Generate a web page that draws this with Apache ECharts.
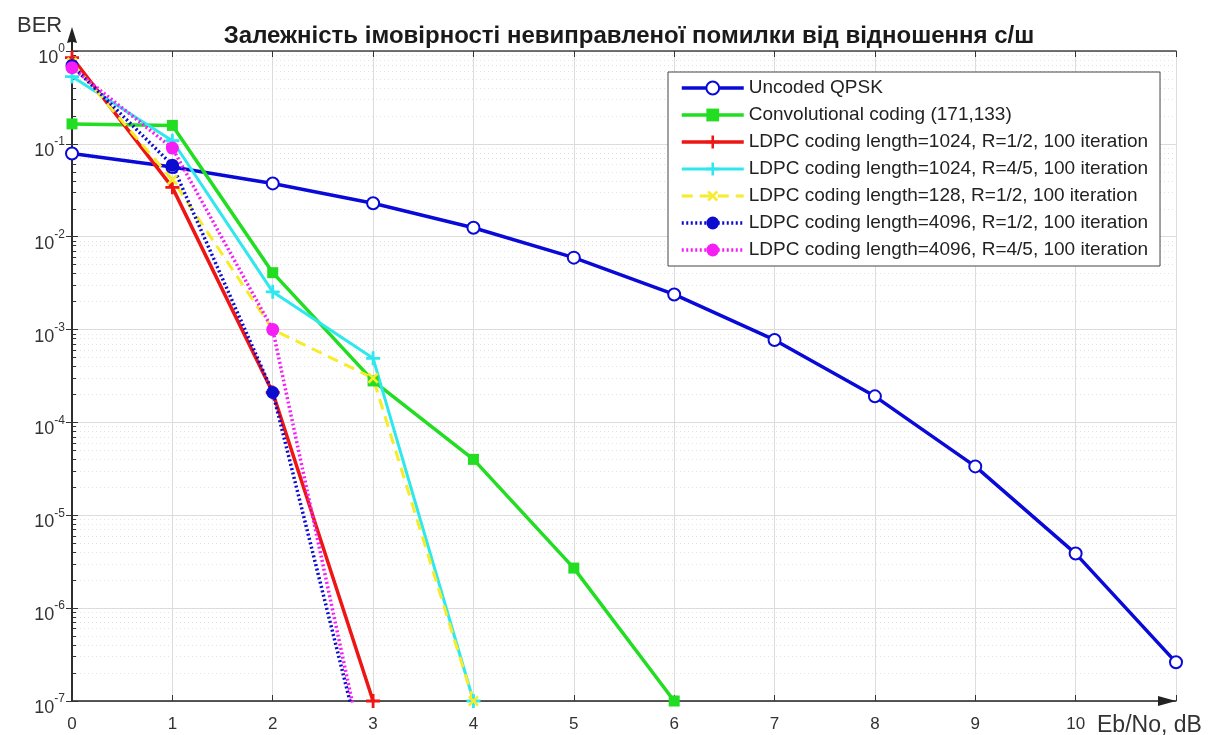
<!DOCTYPE html>
<html>
<head>
<meta charset="utf-8">
<script src="https://cdn.jsdelivr.net/npm/echarts@6/dist/echarts.min.js"></script>
<style>
  html, body { margin: 0; padding: 0; background: #fff; }
  #ber-chart { width: 1213px; height: 735px; }
</style>
</head>
<body>
<div id="ber-chart"></div>
<script>
// Eb/No, dB
const ebno = [0, 1, 2, 3, 4, 5, 6, 7, 8, 9, 10, 11];
// BER values
const uncodedQpsk = [0.0786, 0.0563, 0.0375, 0.0229, 0.0125, 0.00595, 0.00239, 7.73e-4, 1.91e-4, 3.36e-5, 3.87e-6, 2.61e-7];
const convCoding = [0.164, 0.158, 0.0041, 2.8e-4, 4.0e-5, 2.7e-6, 1e-7];
const ldpc1024Half = [0.85, 0.034, 2.1e-4, 1e-7];
const ldpc1024FourFifths = [0.53, 0.108, 2.55e-3, 4.9e-4, 1e-7];
const ldpc128Half = [0.75, 0.041, 1.0e-3, 3.0e-4, 1e-7];
const ldpc4096Half = [0.7, 0.059, 2.1e-4, 1e-8];
const ldpc4096FourFifths = [0.66, 0.09, 1.0e-3, 8.7e-9];

const legendNames = [
  'Uncoded QPSK',
  'Convolutional coding (171,133)',
  'LDPC coding length=1024, R=1/2, 100 iteration',
  'LDPC coding length=1024, R=4/5, 100 iteration',
  'LDPC coding length=128, R=1/2, 100 iteration',
  'LDPC coding length=4096, R=1/2, 100 iteration',
  'LDPC coding length=4096, R=4/5, 100 iteration'
];

const FONT = '"Liberation Sans", Arial, sans-serif';
const PLUS = 'path://M4,0 L6,0 L6,4 L10,4 L10,6 L6,6 L6,10 L4,10 L4,6 L0,6 L0,4 L4,4 Z';

const pairs = (vals) => vals.map((v, i) => [ebno[i], v]);

const mkSeries = (name, vals, color, opts) => Object.assign({
  name: name,
  type: 'line',
  data: pairs(vals),
  symbolSize: 11,
  lineStyle: { color: color, width: 3.5 },
  itemStyle: { color: color },
  animation: false,
  clip: true
}, opts);

const chart = echarts.init(document.getElementById('ber-chart'));

chart.setOption({
  backgroundColor: '#fff',
  title: [
    {
      text: 'Залежність імовірності невиправленої помилки від відношення с/ш',
      left: 624, top: 19, textAlign: 'center',
      textStyle: { fontFamily: FONT, fontSize: 24, fontWeight: 'bold', color: '#1a1a1a' }
    },
    {
      text: 'BER', left: 12, top: 10,
      textStyle: { fontFamily: FONT, fontSize: 22, fontWeight: 'normal', color: '#333' }
    },
    {
      text: 'Eb/No, dB', left: 1092, top: 709,
      textStyle: { fontFamily: FONT, fontSize: 23, fontWeight: 'normal', color: '#333' }
    }
  ],
  legend: {
    orient: 'vertical',
    left: 668, top: 72,
    data: legendNames,
    itemWidth: 62, itemHeight: 16, itemGap: 7,
    padding: [6, 12, 6, 12],
    backgroundColor: '#fff',
    borderColor: '#444', borderWidth: 1,
    lineStyle: { width: 'inherit' },
    textStyle: { fontFamily: FONT, fontSize: 19, color: '#222', lineHeight: 20 }
  },
  grid: { left: 72, right: 37, top: 51, bottom: 34, containLabel: false },
  xAxis: [
    {
      type: 'value', min: 0, max: 11, interval: 1,
      axisLine: { show: true, lineStyle: { color: '#222', width: 1.5 },
        symbol: ['none', 'triangle'], symbolSize: [10, 18], symbolOffset: [0, -9] },
      axisTick: { inside: true, length: 6, lineStyle: { color: '#333' } },
      axisLabel: { fontFamily: FONT, fontSize: 17, color: '#333', margin: 15,
        formatter: (v) => (v === 11 ? '' : String(v)) },
      splitLine: { show: true, lineStyle: { color: '#dcdcdc', width: 1 } }
    },
    {
      type: 'value', min: 0, max: 11, interval: 1, position: 'top',
      axisLine: { show: true, lineStyle: { color: '#444', width: 1.5 } },
      axisTick: { inside: true, length: 6, lineStyle: { color: '#333' } },
      axisLabel: { show: false },
      splitLine: { show: false }
    }
  ],
  yAxis: [
    {
      type: 'log', logBase: 10, min: 1e-7, max: 1,
      axisLine: { show: true, lineStyle: { color: '#222', width: 1.5 },
        symbol: ['none', 'path://M5,0 L10,16 L6,15 L6,24 L4,24 L4,15 L0,16 Z'],
        symbolSize: [10, 24], symbolOffset: [0, 12] },
      axisTick: { inside: true, length: 6, lineStyle: { color: '#333' } },
      minorTick: { show: true, splitNumber: 9, length: 4, lineStyle: { color: '#333' } },
      minorSplitLine: { show: true, lineStyle: { color: '#e2e2e2', type: [1, 3] } },
      axisLabel: {
        margin: 7,
        formatter: (v) => '{b|10}{e|' + Math.round(Math.log10(v)) + '}',
        rich: {
          b: { fontFamily: FONT, fontSize: 18, color: '#333', padding: [14, 0, 0, 0] },
          e: { fontFamily: FONT, fontSize: 12, color: '#333', padding: [8, 0, 0, 0], verticalAlign: 'top' }
        }
      },
      splitLine: { show: true, lineStyle: { color: '#dcdcdc', width: 1 } }
    },
    {
      type: 'log', logBase: 10, min: 1e-7, max: 1, position: 'right',
      axisLine: { show: true, lineStyle: { color: '#222', width: 1.5 } },
      axisTick: { inside: true, length: 6, lineStyle: { color: '#333' } },
      axisLabel: { show: false },
      splitLine: { show: false }
    }
  ],
  series: [
    mkSeries(legendNames[0], uncodedQpsk, '#0a0ad8', { symbol: 'emptyCircle', symbolSize: 12,
      itemStyle: { color: '#0a0ad8', borderWidth: 2.5 } }),
    mkSeries(legendNames[1], convCoding, '#22dd22', { symbol: 'rect', symbolSize: 11 }),
    mkSeries(legendNames[2], ldpc1024Half, '#ee1515', { symbol: PLUS, symbolSize: 14 }),
    mkSeries(legendNames[3], ldpc1024FourFifths, '#2ee8ee', { symbol: PLUS, symbolSize: 14,
      lineStyle: { color: '#2ee8ee', width: 3 } }),
    mkSeries(legendNames[4], ldpc128Half, '#f6ec2a', { symbol: PLUS, symbolSize: 13, symbolRotate: 45,
      lineStyle: { color: '#f6ec2a', width: 3, type: [11, 7] } }),
    mkSeries(legendNames[5], ldpc4096Half, '#0c0cd0', { symbol: 'circle', symbolSize: 13,
      lineStyle: { color: '#0c0cd0', width: 3.5, type: [2, 2.5] } }),
    mkSeries(legendNames[6], ldpc4096FourFifths, '#f51ef5', { symbol: 'circle', symbolSize: 13,
      lineStyle: { color: '#f51ef5', width: 3.5, type: [2, 2.5] } })
  ]
});

window.addEventListener('resize', function () {
  chart.resize();
});
</script>
</body>
</html>
